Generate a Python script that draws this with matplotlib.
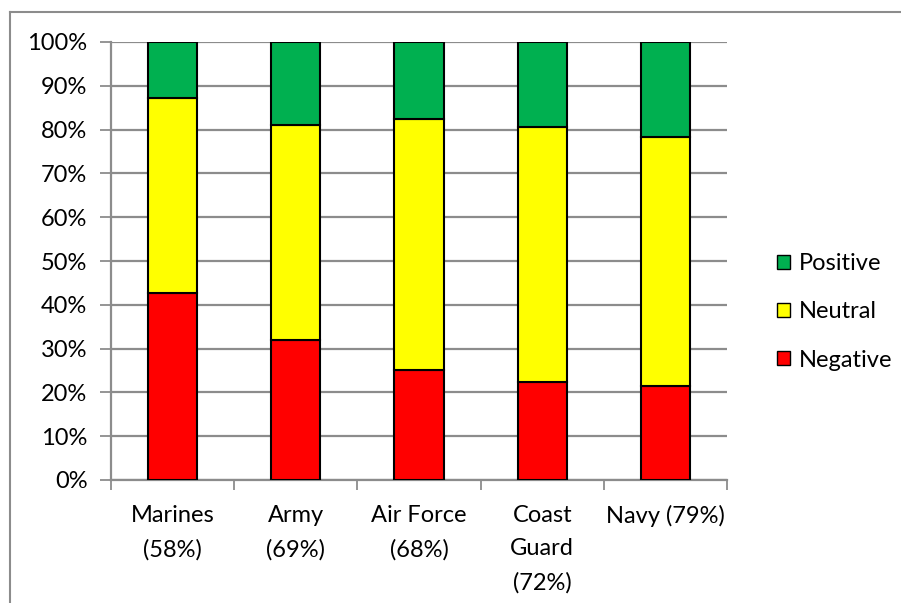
import numpy as np
import matplotlib.pyplot as plt
from matplotlib.patches import Patch
from matplotlib.lines import Line2D

plt.rcParams['font.family'] = ['Lato', 'DejaVu Sans']

# data (percent)
categories = ['Marines\n(58%)', 'Army\n(69%)', 'Air Force\n(68%)', 'Coast\nGuard\n(72%)', 'Navy (79%)']
negative = [42.7, 31.9, 25.2, 22.3, 21.4]
neutral = [44.6, 49.1, 57.3, 58.4, 56.9]
positive = [12.7, 19.0, 17.5, 19.3, 21.7]

col_neg = '#FF0000'
col_neu = '#FFFF00'
col_pos = '#00B050'
grid_col = '#8C8C8C'

W, H = 901, 603
fig = plt.figure(figsize=(W / 100, H / 100), dpi=100)
ax = fig.add_axes([111 / W, 1 - 480 / H, (727 - 111) / W, (480 - 42) / H])

x = np.arange(len(categories))
neg = np.array(negative)
neu = np.array(neutral)
pos = np.array(positive)
bw = 0.4
ax.bar(x, neg, bw, color=col_neg, edgecolor='black', linewidth=1.5, zorder=3)
ax.bar(x, neu, bw, bottom=neg, color=col_neu, edgecolor='black', linewidth=1.5, zorder=3)
ax.bar(x, pos, bw, bottom=neg + neu, color=col_pos, edgecolor='black', linewidth=1.5, zorder=3)

ax.set_xlim(-0.5, len(categories) - 0.5)
ax.set_ylim(0, 100)
ax.set_yticks(np.arange(0, 101, 10))
ax.set_yticklabels([f'{v}%' for v in range(0, 101, 10)], fontsize=17)
ax.yaxis.grid(True, color=grid_col, linewidth=1.6, zorder=0)
ax.tick_params(axis='y', length=8, width=1.3, color=grid_col, pad=9)

ax.set_xticks(x)
ax.set_xticklabels(categories, fontsize=17, linespacing=1.73, va='top')
ax.tick_params(axis='x', which='major', length=0, pad=18)
ax.set_xticks(np.arange(-0.5, len(categories), 1), minor=True)
ax.tick_params(axis='x', which='minor', length=7, width=1.3, color=grid_col)

for s in ['top', 'right']:
    ax.spines[s].set_visible(False)
for s in ['left', 'bottom']:
    ax.spines[s].set_color(grid_col)
    ax.spines[s].set_linewidth(1.6)

handles = [Patch(facecolor=col_pos, edgecolor='black', label='Positive'),
           Patch(facecolor=col_neu, edgecolor='black', label='Neutral'),
           Patch(facecolor=col_neg, edgecolor='black', label='Negative')]
fig.legend(handles=handles, loc='center left', bbox_to_anchor=(768 / W, 1 - 312 / H),
           frameon=False, fontsize=17, handlelength=0.55, handleheight=0.55,
           handletextpad=0.35, labelspacing=1.15, borderaxespad=0)

# chart area border (only left and top visible in the crop)
fig.add_artist(Line2D([10 / W, 10 / W], [0, 1 - 12 / H], color='#8C8C8C', linewidth=1.5))
fig.add_artist(Line2D([10 / W, 1], [1 - 12 / H, 1 - 12 / H], color='#8C8C8C', linewidth=1.5))

fig.savefig('out.png', dpi=100)
